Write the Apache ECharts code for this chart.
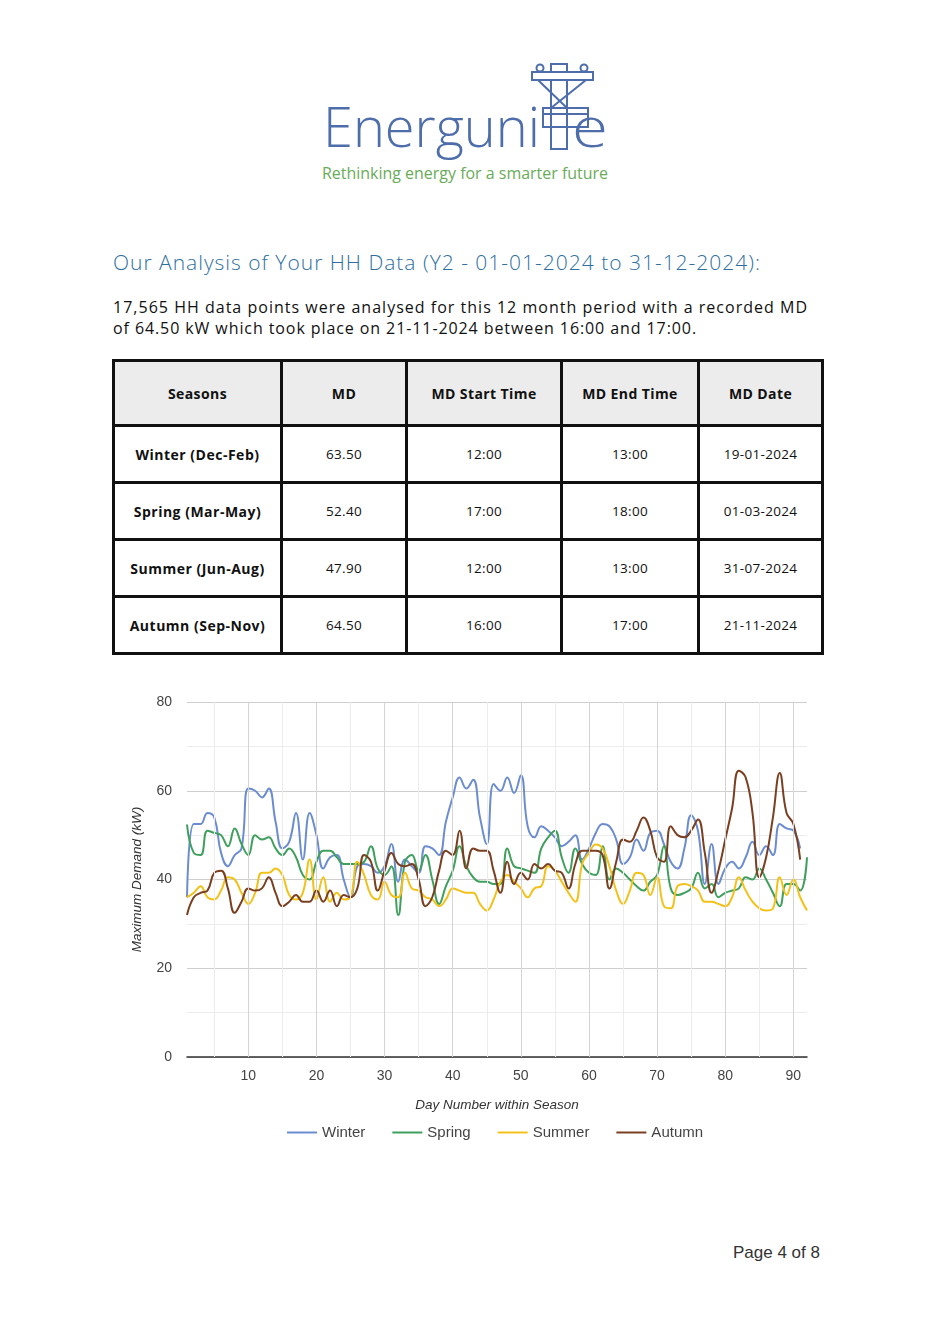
<!DOCTYPE html>
<html>
<head>
<meta charset="utf-8">
<script src="https://cdn.jsdelivr.net/npm/echarts@6/dist/echarts.min.js"></script>
<style>
  html, body { margin:0; padding:0; background:#fff; }
  body { width:936px; height:1334px; position:relative; overflow:hidden; font-family:'Open Sans', 'Noto Sans', sans-serif; }
  .abs { position:absolute; white-space:nowrap; }
  #title { left:113px; top:250px; font-size:21px; line-height:24px; color:#2f6f9f; font-weight:300; }
  .para { left:113px; font-size:16px; line-height:21px; color:#111; }
  #tbl { position:absolute; left:112px; top:359px; border-collapse:collapse; table-layout:fixed; width:709px; }
  #tbl td, #tbl th { border:3px solid #111; text-align:center; padding:0; font-size:13.5px; color:#111; letter-spacing:0.3px; }
  #tbl th { background:#ececec; font-weight:700; height:62px; font-size:14px; letter-spacing:0.4px; }
  #tbl td { height:54px; font-weight:400; }
  #tbl td.first { font-weight:700; font-size:14px; letter-spacing:0.5px; }
  #footer { left:733px; top:1243px; font-family:'Liberation Sans', Arial, sans-serif; font-size:17px; color:#333; }
  #chart { position:absolute; left:0; top:680px; width:936px; height:490px; }
</style>
</head>
<body>

<svg class="abs" style="left:0;top:0" width="936" height="200" viewBox="0 0 936 200">
  <text x="323" y="147" font-family="Open Sans, Noto Sans, sans-serif" font-weight="300" font-size="56" fill="#4d6dab" textLength="217" lengthAdjust="spacingAndGlyphs">Energuni</text>
  <g stroke="#4d6dab" stroke-width="2" fill="none">
    <rect x="551" y="64" width="16" height="85"/>
    <rect x="532" y="72" width="61" height="8" fill="#fff"/>
    <circle cx="540" cy="68" r="3.5" fill="#fff"/>
    <circle cx="584" cy="68" r="3.5" fill="#fff"/>
    <line x1="538" y1="80" x2="567" y2="108"/>
    <line x1="586" y1="80" x2="551" y2="108"/>
    <rect x="543" y="108" width="45" height="19" fill="#fff"/>
    <line x1="543" y1="114" x2="588" y2="114"/>
    <line x1="551" y1="108" x2="551" y2="149"/>
    <line x1="567" y1="108" x2="567" y2="149"/>
  </g>
  <text x="572" y="147" font-family="Open Sans, Noto Sans, sans-serif" font-weight="300" font-size="56" fill="#4d6dab" textLength="36" lengthAdjust="spacingAndGlyphs">e</text>
  <text x="322" y="179" font-family="Open Sans, Noto Sans, sans-serif" font-size="17" fill="#6aab5a" textLength="286" lengthAdjust="spacingAndGlyphs">Rethinking energy for a smarter future</text>
</svg>

<div id="title" class="abs">Our Analysis of Your HH Data (Y2 - 01-01-2024 to 31-12-2024):</div>
<div id="p1" class="abs para" style="top:297px">17,565 HH data points were analysed for this 12 month period with a recorded MD</div>
<div id="p2" class="abs para" style="top:318px">of 64.50 kW which took place on 21-11-2024 between 16:00 and 17:00.</div>

<table id="tbl"></table>

<div id="chart"></div>
<div id="footer" class="abs">Page 4 of 8</div>

<script>
// ---------- table data ----------
var tableHeaders = ['Seasons', 'MD', 'MD Start Time', 'MD End Time', 'MD Date'];
var tableSeasons = ['Winter (Dec-Feb)', 'Spring (Mar-May)', 'Summer (Jun-Aug)', 'Autumn (Sep-Nov)'];
var tableMD = ['63.50', '52.40', '47.90', '64.50'];
var tableStart = ['12:00', '17:00', '12:00', '16:00'];
var tableEnd = ['13:00', '18:00', '13:00', '17:00'];
var tableDate = ['19-01-2024', '01-03-2024', '31-07-2024', '21-11-2024'];

// ---------- chart data ----------
var seriesNames = ['Winter', 'Spring', 'Summer', 'Autumn'];
var winter = [36, 52.5, 52.5, 55, 54, 46, 43, 45.5, 47, 60.5,
  60, 58.5, 60.5, 53, 47, 48.5, 55, 44.5, 55, 50,
  42.5, 45, 45.5, 40, 36, 43, 43.5, 43, 41.5, 43,
  48, 39.5, 44.5, 43, 41.5, 47.5, 47, 45.5, 53, 58.5,
  63, 60.5, 62.5, 54, 48, 61.5, 60, 63, 59.5, 63.5,
  52, 49.5, 52, 51, 49.5, 47.5, 48.5, 50, 44.5, 47,
  50.5, 52.5, 52, 49, 43.5, 45, 49, 46.5, 50.5, 51,
  48, 44, 42.5, 47, 54.5, 51, 39, 48, 39, 42.5,
  44, 42.5, 45, 48.5, 45.5, 47.5, 45.5, 52.5, 51.5, 51, 47];
var spring = [52.4, 46, 45.5, 51, 50.5, 50, 47.5, 51.5, 48, 45.5,
  50, 49, 49.5, 47, 45.5, 47, 45, 41, 40, 44,
  46.5, 46.5, 45, 43.5, 43.5, 43.5, 44, 47.5, 42.5, 41,
  43, 32, 44, 45.5, 42, 45.5, 40, 34.5, 38.5, 42,
  47.5, 43, 40.5, 39.5, 39.5, 39, 39, 47, 43, 42.5,
  42, 41.5, 47, 49.5, 51, 45, 41.5, 47, 43.5, 41.5,
  41, 47.5, 40, 42.5, 41.5, 40, 38.5, 37.5, 39.5, 41,
  47.5, 38, 36.5, 37, 38, 41.5, 38, 39, 36, 37,
  37.5, 38, 40.5, 40, 42.5, 40, 37, 34, 39, 39, 37.5, 45];
var summer = [36, 37, 38.5, 36, 35.5, 37.5, 40.5, 40, 37, 34.5,
  37, 41.5, 41.5, 42.5, 41, 36.5, 35.5, 37, 44.5, 35.5,
  40.5, 35, 37, 35.5, 36, 44, 41, 36.5, 35.5, 39.5,
  36.5, 36, 41.5, 38, 37.5, 36, 35.5, 34, 35.5, 38,
  37.5, 37, 37, 34.5, 33, 35.5, 39.5, 41, 39.5, 38,
  36, 38, 38.5, 43, 42, 39.5, 37, 35, 43.5, 46,
  47.9, 47, 43, 37.5, 34.5, 37.5, 41.5, 41, 36.5, 40.5,
  34, 33.5, 38.5, 39, 38.5, 37.5, 35, 35, 34.5, 34,
  36, 40.5, 37.5, 35, 33.5, 33, 33.5, 40.5, 36.5, 40, 36, 33];
var autumn = [32, 36, 37, 37.5, 41.5, 42, 38, 32.5, 35, 38,
  37.5, 38, 40.5, 37, 34, 35, 36.5, 35, 35, 37.5,
  35, 37.5, 34, 36.5, 36, 38, 45.5, 44, 37.5, 42,
  46, 43.5, 43, 43.5, 40, 34, 36, 42, 46.5, 45.5,
  51, 42.5, 47, 46.5, 46.5, 42, 37, 44, 39, 41.5,
  40, 43.5, 42.5, 43.5, 42, 41.5, 38, 43.5, 46.5, 46.5,
  46.5, 45.5, 38, 44, 49, 48.5, 51, 54, 51, 45,
  44, 52, 50, 49.5, 51, 53.5, 46, 37, 42, 49,
  56, 64.5, 63, 55, 40.5, 45, 54, 64, 55, 52.5, 44.5];
var xTickLabels = [10, 20, 30, 40, 50, 60, 70, 80, 90];
var xGridDays = [5, 10, 15, 20, 25, 30, 35, 40, 45, 50, 55, 60, 65, 70, 75, 80, 85, 90];
var seriesColors = ['#6b8dd0', '#3f9f5c', '#f2c21a', '#7a3f20'];

// ---------- build table ----------
(function () {
  var tbl = document.getElementById('tbl');
  var widths = [168, 125, 155, 137, 124];
  var cg = '<colgroup>' + widths.map(function (w) { return '<col style="width:' + w + 'px">'; }).join('') + '</colgroup>';
  var html = cg + '<tr>' + tableHeaders.map(function (h) { return '<th>' + h + '</th>'; }).join('') + '</tr>';
  for (var i = 0; i < tableSeasons.length; i++) {
    html += '<tr><td class="first">' + tableSeasons[i] + '</td><td>' + tableMD[i] + '</td><td>' + tableStart[i] +
      '</td><td>' + tableEnd[i] + '</td><td>' + tableDate[i] + '</td></tr>';
  }
  tbl.innerHTML = html;
})();

// ---------- fit text widths ----------
function fitWidth(id, target) {
  var el = document.getElementById(id);
  el.style.letterSpacing = '0px';
  var w = el.getBoundingClientRect().width;
  var n = el.textContent.length;
  el.style.letterSpacing = ((target - w) / n) + 'px';
}
fitWidth('title', 648);
fitWidth('p1', 695);
fitWidth('p2', 584);

// ---------- chart ----------
var chart = echarts.init(document.getElementById('chart'), null, { renderer: 'canvas' });
var allData = [winter, spring, summer, autumn];
var series = [{
  name: 'grid',
  type: 'line',
  data: [],
  z: 1,
  silent: true,
  markLine: {
    silent: true,
    symbol: ['none', 'none'],
    label: { show: false },
    animation: false,
    data: xGridDays.map(function (d) {
      return { xAxis: d, lineStyle: { color: d % 10 === 0 ? '#d4d4d4' : '#ececec', width: 1, type: 'solid' } };
    })
  }
}];
allData.forEach(function (arr, i) {
  series.push({
    name: seriesNames[i],
    type: 'line',
    z: 3,
    smooth: 0.45,
    symbol: 'none',
    lineStyle: { width: 2, color: seriesColors[i] },
    itemStyle: { color: seriesColors[i] },
    data: arr.map(function (v, k) { return [k + 1, v]; })
  });
});

chart.setOption({
  animation: false,
  backgroundColor: 'transparent',
  textStyle: { fontFamily: 'Liberation Sans, Arial, sans-serif' },
  grid: { left: 187, right: 129, top: 22, bottom: 113 },
  legend: {
    data: seriesNames,
    top: 445,
    left: 287,
    icon: 'rect',
    itemWidth: 30,
    itemHeight: 2,
    itemGap: 27,
    padding: 0,
    textStyle: { fontSize: 15, color: '#444', fontFamily: 'Liberation Sans, Arial, sans-serif' }
  },
  xAxis: {
    type: 'value',
    min: 1,
    max: 92,
    name: 'Day Number within Season',
    nameLocation: 'middle',
    nameGap: 41,
    nameTextStyle: { fontStyle: 'italic', fontSize: 13.5, color: '#333' },
    axisLine: { show: true, lineStyle: { color: '#333', width: 1.5 } },
    axisTick: { show: false },
    splitLine: { show: false },
    axisLabel: { customValues: xTickLabels, fontSize: 14, color: '#444', margin: 12 }
  },
  yAxis: {
    type: 'value',
    min: 0,
    max: 80,
    interval: 10,
    name: 'Maximum Demand (kW)',
    nameLocation: 'middle',
    nameGap: 43,
    nameTextStyle: { fontStyle: 'italic', fontSize: 13.5, color: '#333' },
    axisLine: { show: false },
    axisTick: { show: false },
    splitLine: { show: true, lineStyle: { color: ['#cfcfcf', '#ececec'], width: 1 } },
    axisLabel: {
      fontSize: 14, color: '#444', margin: 15,
      formatter: function (v) { return v % 20 === 0 ? String(v) : ''; }
    }
  },
  series: series
});
</script>
</body>
</html>
